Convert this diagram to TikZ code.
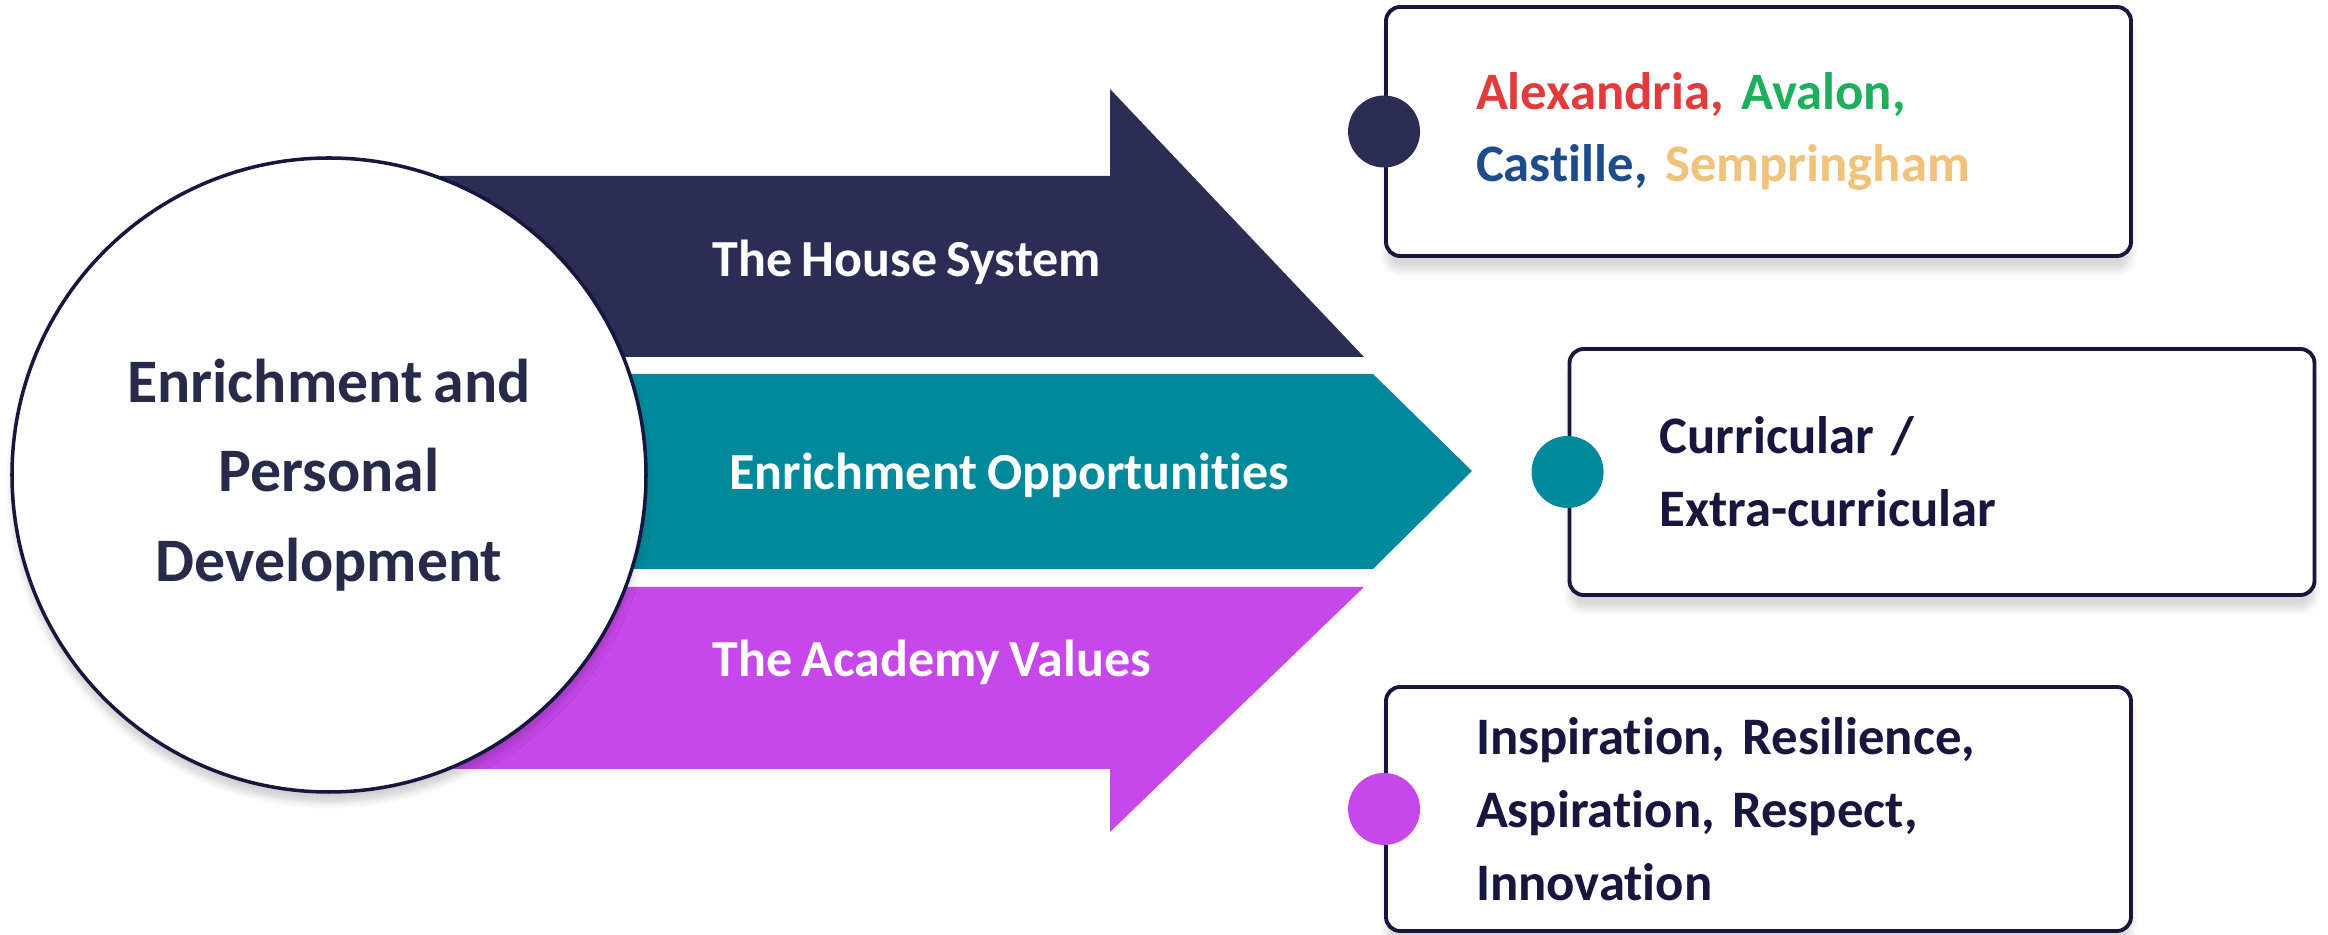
\documentclass[tikz,border=0pt]{standalone}
\usepackage{fontspec}
\setmainfont{Carlito}[WordSpace=0.8,Ligatures=NoCommon]
\usepackage{tikz}
\usetikzlibrary{shadows.blur}
\definecolor{housenavy}{HTML}{2B2D55}
\definecolor{oppteal}{HTML}{00899A}
\definecolor{valpurple}{HTML}{C647EA}
\definecolor{hubink}{HTML}{262B4A}
\definecolor{boxink}{HTML}{16163E}
\definecolor{alexred}{HTML}{E23B3B}
\definecolor{avalgreen}{HTML}{1EAF5C}
\definecolor{castblue}{HTML}{1D4C8C}
\definecolor{semptan}{HTML}{F1C27A}

\begin{document}
\begin{tikzpicture}[x=1cm,y=1cm,
      every node/.append style={font=\bfseries},
      hub/.style={circle,draw=boxink,line width=1pt,fill=white,minimum size=6.34cm,
        align=center,text=hubink,font=\bfseries\fontsize{17.6}{25.5}\selectfont,
        blur shadow={shadow xshift=0pt,shadow yshift=-3pt,shadow opacity=18,shadow blur steps=6}},
      infobox/.style={draw=boxink,line width=1.1pt,fill=white,rounded corners=4pt,
        minimum width=7.45cm,text width=5.65cm,inner xsep=0.9cm,align=left,text=boxink,
        font=\bfseries\fontsize{15}{20.7}\selectfont,
        blur shadow={shadow xshift=0pt,shadow yshift=-4pt,shadow opacity=15,shadow blur steps=6}},
      dot/.style={circle,minimum size=0.72cm,inner sep=0pt}]
    \tikzstyle{band} = [anchor=west,text=white,font=\bfseries\fontsize{14.8}{17}\selectfont]
    \useasboundingbox (0,0) rectangle (23.28,9.35);
    % the three stripes of the big arrow
    \fill[housenavy] (4.0,7.59) -- (11.10,7.59) -- (11.10,8.46) -- (13.64,5.78) -- (4.0,5.78) -- cycle;
    \fill[oppteal] (4.0,5.61) -- (13.73,5.61) -- (14.72,4.64) -- (13.73,3.66) -- (4.0,3.66) -- cycle;
    \fill[valpurple] (4.0,3.48) -- (13.64,3.48) -- (11.10,1.03) -- (11.10,1.66) -- (4.0,1.66) -- cycle;
    \node[band] (house) at (7.0,6.73) {The House System};
    \node[band,font=\bfseries\fontsize{14.8}{17}\selectfont] (opps) at (7.17,4.60) {Enrichment Opportunities};
    \node[band] (values) at (7.0,2.73) {The Academy Values};
    % hub
    \node[hub] (enrich) at (3.29,4.60) {Enrichment and\\Personal\\Development};
    % boxes on the right
    \node[infobox,minimum height=2.49cm] (houses) at (17.585,8.035)
      {{\color{alexred}Alexandria,} {\color{avalgreen}Avalon,}\\{\color{castblue}Castille,} {\color{semptan}Sempringham}};
    \node[infobox,minimum height=2.46cm] (curric) at (19.42,4.63) {Curricular /\\Extra-curricular};
    \node[infobox,minimum height=2.44cm] (ethos) at (17.585,1.26)
      {Inspiration, Resilience,\\Aspiration, Respect,\\Innovation};
    \node[dot,fill=housenavy] (d1) at (houses.west) {};
    \node[dot,fill=oppteal] (d2) at (curric.west) {};
    \node[dot,fill=valpurple] (d3) at (ethos.west) {};
\end{tikzpicture}
\end{document}
